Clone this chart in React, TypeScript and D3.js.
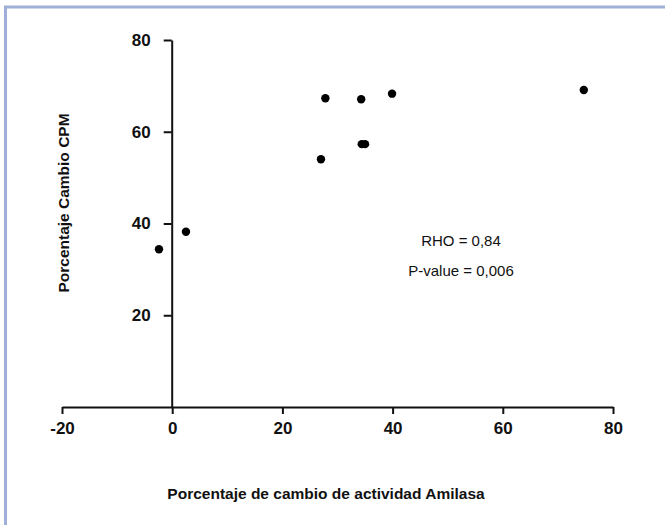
import React, { useRef, useEffect } from 'react'
import { select, scaleLinear, axisBottom, axisLeft } from 'd3'

// values
const amilasa = [-2.4, 2.5, 27.0, 27.8, 34.3, 34.4, 35.0, 39.9, 74.7]
const cpm = [34.4, 38.2, 54.0, 67.3, 67.1, 57.3, 57.3, 68.3, 69.1]
const xTicks = [-20, 0, 20, 40, 60, 80]
const yTicks = [20, 40, 60, 80]
const stats = ['RHO = 0,84', 'P-value = 0,006']

const W = 665
const H = 525
const font = '"Liberation Sans", Arial, sans-serif'

const App = () => {
    const xAxisRef = useRef<SVGGElement>(null)
    const yAxisRef = useRef<SVGGElement>(null)

    const x = scaleLinear().domain([-20, 80]).range([62, 613])
    const y = scaleLinear().domain([0, 80]).range([407, 40])

    useEffect(() => {
        const gx = select(xAxisRef.current)
        gx.call(axisBottom(x).tickValues(xTicks).tickFormat((d: any) => String(d))
            .tickSize(7).tickSizeOuter(0).tickPadding(8) as any)
        gx.selectAll('path, line').attr('stroke', '#111').attr('stroke-width', 2)
        gx.selectAll('text')
            .attr('font-family', font)
            .attr('font-size', 17)
            .attr('font-weight', 'bold')
            .attr('fill', '#111')

        const gy = select(yAxisRef.current)
        gy.call(axisLeft(y).tickValues(yTicks).tickFormat((d: any) => String(d))
            .tickSize(8).tickSizeOuter(0).tickPadding(13) as any)
        gy.selectAll('path, line').attr('stroke', '#111').attr('stroke-width', 2)
        gy.selectAll('text')
            .attr('font-family', font)
            .attr('font-size', 17)
            .attr('font-weight', 'bold')
            .attr('fill', '#111')
    }, [])

    return (
        <svg width={W} height={H} style={{ position: 'absolute', left: 0, top: 0, background: '#fff' }}>
            {/* frame */}
            <rect x={5.5} y={7} width={W + 10} height={H + 10} fill="none" stroke="#9fb0d8" strokeWidth={3} />

            <g ref={xAxisRef} transform={`translate(0,${y(0)})`} />
            <g ref={yAxisRef} transform={`translate(${x(0) - 0.5},0)`} />

            {amilasa.map((d, i) => (
                <circle key={i} cx={x(d)} cy={y(cpm[i])} r={4.2} fill="#000" />
            ))}

            {stats.map((s, i) => (
                <text key={s} x={461} y={246 + i * 30} textAnchor="middle"
                    fontFamily={font} fontSize={15} fill="#111">{s}</text>
            ))}

            <text x={326} y={499} textAnchor="middle" fontFamily={font} fontSize={15.5}
                fontWeight="bold" fill="#111">Porcentaje de cambio de actividad Amilasa</text>
            <text transform={`translate(69,203) rotate(-90)`} textAnchor="middle" fontFamily={font}
                fontSize={15.5} fontWeight="bold" fill="#111">Porcentaje Cambio CPM</text>
        </svg>
    )
}

export default App
